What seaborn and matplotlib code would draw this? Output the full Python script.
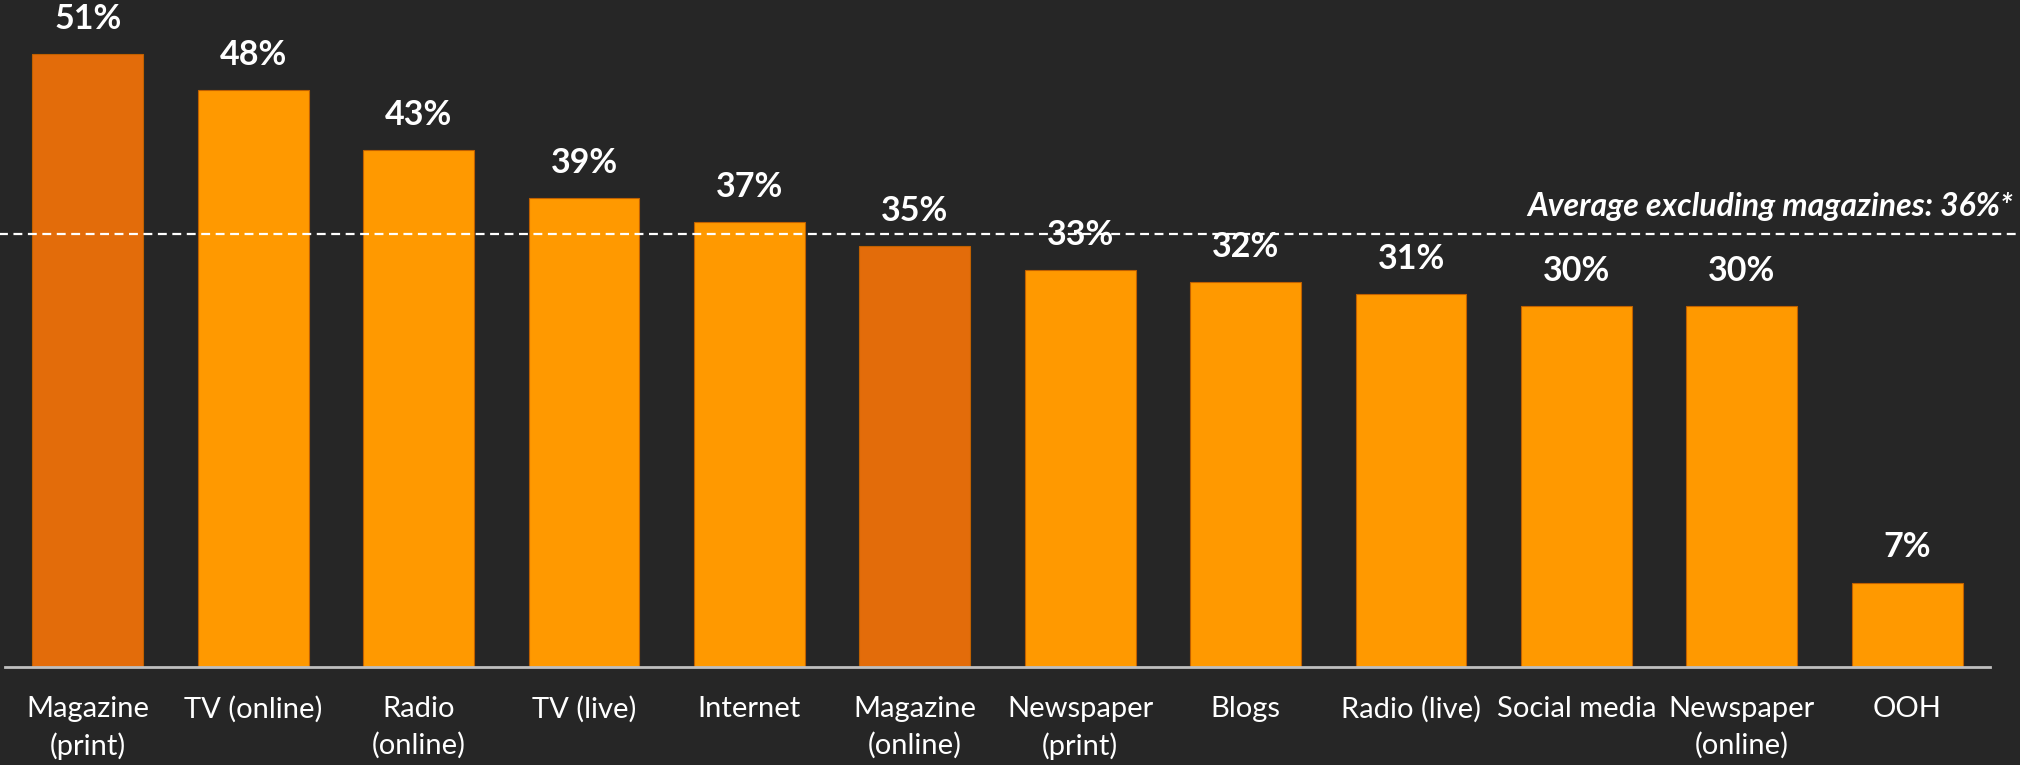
import matplotlib
matplotlib.use("Agg")
import matplotlib.pyplot as plt
import matplotlib.transforms as mtransforms
import seaborn as sns
import pandas as pd

# Share of respondents by media channel
categories = ["Magazine\n(print)", "TV (online)", "Radio\n(online)", "TV (live)", "Internet",
              "Magazine\n(online)", "Newspaper\n(print)", "Blogs", "Radio (live)",
              "Social media", "Newspaper\n(online)", "OOH"]
values = [51, 48, 43, 39, 37, 35, 33, 32, 31, 30, 30, 7]
is_magazine = [True, False, False, False, False, True, False, False, False, False, False, False]
average_excl_magazines = 36
average_label = "Average excluding magazines: 36%*"

BG = "#262626"
ORANGE = "#FF9900"
DARK_ORANGE = "#E36C0A"
FONT = "Lato"

sns.set_theme(style="dark")
plt.rcParams["font.family"] = [FONT, "DejaVu Sans"]

df = pd.DataFrame({"channel": categories, "share": values})
palette = {c: (DARK_ORANGE if m else ORANGE) for c, m in zip(categories, is_magazine)}

fig = plt.figure(figsize=(20.2, 7.65), dpi=100, facecolor=BG)
ax = fig.add_axes([5 / 2020, 98 / 765, 1985 / 2020, 667 / 765])
ax.set_facecolor(BG)

sns.barplot(data=df, x="channel", y="share", hue="channel", palette=palette,
            legend=False, width=0.67, saturation=1, ax=ax,
            edgecolor="#C06000", linewidth=0.8)

ax.set_xlim(-0.5, 11.5)
ax.set_ylim(0, 55.5)

# dashed average line running across the full width
trans = mtransforms.blended_transform_factory(ax.transAxes, ax.transData)
ax.plot([-0.01, 1.02], [average_excl_magazines] * 2, transform=trans, clip_on=False,
        color="white", lw=1.6, ls=(0, (4, 2.5)), zorder=1)
ax.text(1.0115, average_excl_magazines + 1.1, average_label, transform=trans,
        ha="right", va="bottom", color="white", fontsize=23,
        fontweight="bold", fontstyle="italic", clip_on=False, zorder=5)

# value labels
for i, v in enumerate(values):
    ax.annotate(f"{v}%", (i, v), xytext=(0, 14), textcoords="offset points",
                ha="center", va="bottom", color="white", fontsize=24.5,
                fontweight="bold", zorder=6, annotation_clip=False)

ax.set_xlabel("")
ax.set_ylabel("")
ax.set_yticks([])
ax.tick_params(axis="x", length=0, pad=21, labelsize=21, colors="white")
for lbl in ax.get_xticklabels():
    lbl.set_linespacing(1.45)

for side in ["left", "right", "top"]:
    ax.spines[side].set_visible(False)
ax.spines["bottom"].set_visible(True)
ax.spines["bottom"].set_color("#BFBFBF")
ax.spines["bottom"].set_linewidth(2)
ax.grid(False)

fig.savefig("out.png", dpi=100, facecolor=BG)
